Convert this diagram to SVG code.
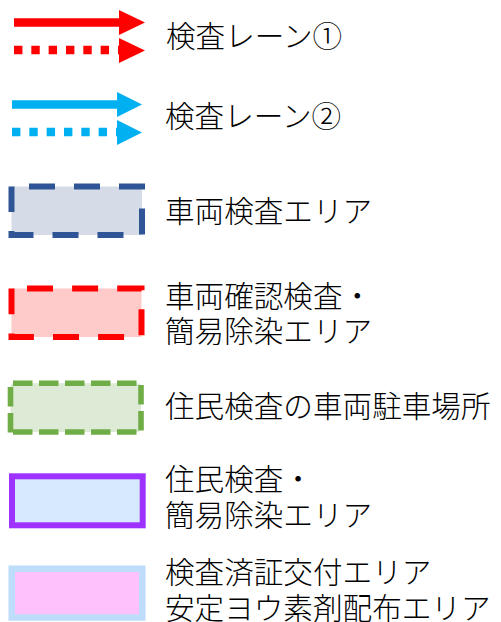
<svg xmlns="http://www.w3.org/2000/svg" width="501" height="622" viewBox="0 0 501 622">
<style>
  text { font-family: "Noto Sans CJK JP", "Noto Sans", sans-serif; font-size: 29.6px; font-weight: 300; fill: #000; }
  .red { stroke: #FF0000; stroke-width: 8.4; fill: none; }
  .blue { stroke: #00B0F0; stroke-width: 8.6; fill: none; }
  .dot { stroke-dasharray: 8.4 8.93; }
  .headR { fill: #FF0000; }
  .headB { fill: #00B0F0; }
</style>
<rect width="501" height="622" fill="#FFFFFF"/>
<g id="connectors">
  <g id="lane1-solid">
    <line class="red" x1="14" y1="22.5" x2="121" y2="22.5"/>
    <polygon class="headR" points="119,10 145,22.5 119,35"/>
  </g>
  <g id="lane1-dotted">
    <line class="red dot" x1="14" y1="50" x2="126" y2="50"/>
    <polygon class="headR" points="119,38 145,50.5 119,63"/>
  </g>
  <g id="lane2-solid">
    <line class="blue" x1="12" y1="104.5" x2="119" y2="104.5"/>
    <polygon class="headB" points="117,92 142,104.5 117,117"/>
  </g>
  <g id="lane2-dotted">
    <line class="blue dot" x1="12" y1="132" x2="124" y2="132"/>
    <polygon class="headB" points="117,120 142,132.5 117,145"/>
  </g>
</g>
<g id="label-lane1"><text x="166" y="46.5">検査レーン①</text></g>
<g id="label-lane2"><text x="165" y="127">検査レーン②</text></g>
<g id="vehicle-inspection">
  <rect x="11.5" y="186.5" width="130.5" height="48.5" fill="#D5DCE7" stroke="#2F5597" stroke-width="6" stroke-dasharray="26 19" stroke-dashoffset="-17.5"/>
  <text x="165" y="221.5">車両検査エリア</text>
</g>
<g id="vehicle-check-decon">
  <rect x="11.5" y="288.5" width="130" height="48.5" fill="#FFCACA" stroke="#FF0000" stroke-width="6" stroke-dasharray="26 19.1" stroke-dashoffset="-15.5"/>
  <text x="165" y="306.5">車両確認検査・</text>
  <text x="165" y="342">簡易除染エリア</text>
</g>
<g id="resident-parking">
  <rect x="10.5" y="383.3" width="130.5" height="48.7" rx="4" fill="#DDEBD6"/>
  <g stroke="#70AD47" stroke-width="5.6" stroke-dasharray="19.5 6.5" fill="none">
    <line x1="13" y1="383.3" x2="137" y2="383.3"/>
    <line x1="13" y1="432" x2="137" y2="432"/>
    <line x1="10.5" y1="387" x2="10.5" y2="433"/>
    <line x1="141" y1="385" x2="141" y2="431"/>
  </g>
  <text x="165" y="417">住民検査の車両駐車場所</text>
</g>
<g id="resident-decon">
  <rect x="12" y="476.3" width="130.7" height="49" fill="#D7E9FC" stroke="#9E32FF" stroke-width="6"/>
  <text x="165" y="490">住民検査・</text>
  <text x="165" y="525.5">簡易除染エリア</text>
</g>
<g id="certificate-iodine">
  <rect x="11.7" y="568.7" width="130.6" height="48.8" fill="#FFC1FB" stroke="#BDDDFB" stroke-width="6.5"/>
  <text x="165" y="583">検査済証交付エリア</text>
  <text x="165" y="619">安定ヨウ素剤配布エリア</text>
</g>
</svg>
